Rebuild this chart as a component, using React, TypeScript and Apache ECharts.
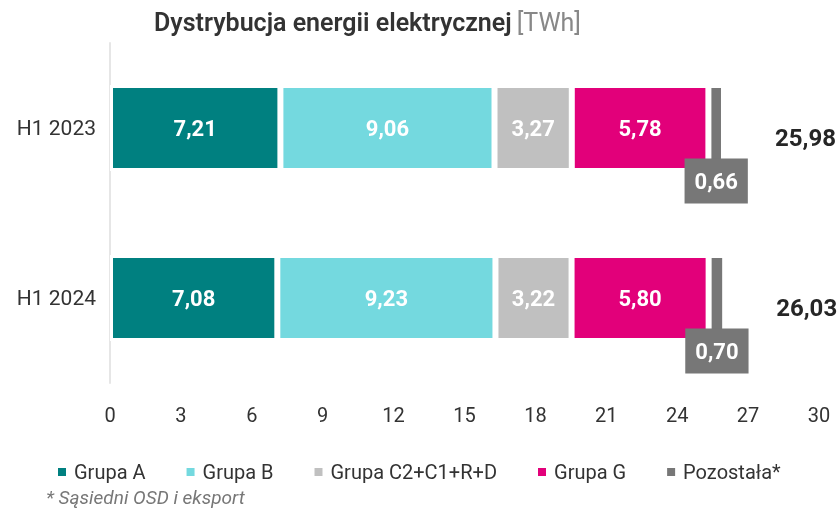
import React, { useEffect, useRef } from "react";
import * as echarts from "echarts";

const categories = ["H1 2023", "H1 2024"];
const seriesNames = ["Grupa A", "Grupa B", "Grupa C2+C1+R+D", "Grupa G", "Pozostała*"];
const grupaA = [7.21, 7.08];
const grupaB = [9.06, 9.23];
const grupaC = [3.27, 3.22];
const grupaG = [5.78, 5.8];
const pozostala = [0.66, 0.7];
const totals = [25.98, 26.03];
const xTicks = { min: 0, max: 30, interval: 3 };
const colors = ["#008080", "#74d9df", "#c0c0c0", "#e2007a", "#777777"];

const fmt = (v: number) => v.toFixed(2).replace(".", ",");
const FONT = "Roboto, 'Noto Sans', sans-serif";

export default function App() {
  const ref = useRef<HTMLDivElement>(null);
  useEffect(() => {
    if (!ref.current) return;
    const chart = echarts.init(ref.current, undefined, { renderer: "svg" });
    const values = [grupaA, grupaB, grupaC, grupaG, pozostala];
    const series: any[] = values.map((vals, i) => ({
      name: seriesNames[i],
      type: "bar",
      stack: "total",
      barWidth: 86,
      data: vals,
      itemStyle: { color: colors[i], borderColor: "#ffffff", borderWidth: 3 },
      label:
        i < 4
          ? {
              show: true,
              position: "inside",
              color: "#ffffff",
              fontWeight: "bold",
              fontSize: 22,
              fontFamily: FONT,
              formatter: (p: any) => fmt(p.value),
            }
          : {
              show: true,
              position: ["50%", "100%"],
              align: "center",
              verticalAlign: "middle",
              offset: [0, 10],
              color: "#ffffff",
              fontWeight: "bold",
              fontSize: 22,
              fontFamily: FONT,
              backgroundColor: "#777777",
              padding: [10, 10, 9, 10],
              lineHeight: 26,
              formatter: (p: any) => fmt(p.value),
            },
    }));
    series.push({
      name: "total",
      type: "scatter",
      symbolSize: 0,
      data: totals.map((t, i) => [t, categories[i]]),
      label: {
        show: true,
        position: "right",
        offset: [46, 10],
        color: "#262626",
        fontWeight: "bold",
        fontSize: 24,
        fontFamily: FONT,
        formatter: (p: any) => fmt(p.value[0]),
      },
      itemStyle: { opacity: 1 },
      silent: true,
    });
    chart.setOption({
      animation: false,
      title: {
        text: "{a|Dystrybucja energii elektrycznej} {b|[TWh]}",
        left: 149,
        top: 5,
        textStyle: {
          rich: {
            a: { fontSize: 25, fontWeight: 600, color: "#333333", fontFamily: FONT },
            b: { fontSize: 25, fontWeight: "normal", color: "#888888", fontFamily: FONT },
          },
        },
      },
      legend: {
        data: seriesNames,
        left: 51,
        top: 457,
        icon: "rect",
        itemWidth: 10,
        itemHeight: 10,
        itemGap: 39,
        textStyle: { fontSize: 20, color: "#333333", fontFamily: FONT, padding: [0, 0, 0, 2] },
      },
      graphic: [
        {
          type: "text",
          left: 46,
          top: 488,
          style: {
            text: "* Sąsiedni OSD i eksport",
            fontSize: 19,
            fontStyle: "italic",
            fill: "#777777",
            fontFamily: FONT,
          },
        },
      ],
      grid: { left: 110, right: 21, top: 43, bottom: 128, containLabel: false },
      xAxis: {
        type: "value",
        min: xTicks.min,
        max: xTicks.max,
        interval: xTicks.interval,
        splitLine: { show: false },
        axisLine: { show: false },
        axisTick: { show: false },
        axisLabel: { fontSize: 20, color: "#333333", fontFamily: FONT, margin: 22 },
      },
      yAxis: {
        type: "category",
        data: categories,
        inverse: true,
        axisLine: { show: true, lineStyle: { color: "#e6e6e6", width: 2 } },
        axisTick: { show: false },
        axisLabel: { fontSize: 21, color: "#333333", fontFamily: FONT, margin: 14 },
      },
      series,
    });
    return () => chart.dispose();
  }, []);
  return (
    <div
      ref={ref}
      style={{ position: "fixed", left: 0, top: 0, width: 840, height: 511 }}
    />
  );
}
